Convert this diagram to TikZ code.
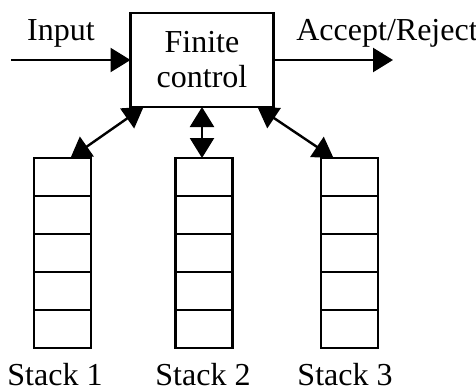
\documentclass[tikz,border=0pt]{standalone}
\usepackage{fontspec}
\setmainfont{Liberation Serif}
\usetikzlibrary{arrows.meta}

\begin{document}
\begin{tikzpicture}[x=0.5pt, y=-0.5pt, line width=1.2pt, font=\fontsize{16}{17.5}\selectfont,
    >={Triangle[length=10pt,width=12pt]},
    cell/.style={draw, minimum width=28.5pt, minimum height=19pt, inner sep=0pt, outer sep=0pt}]
			\useasboundingbox (0,0) rectangle (476,391);
			\node[draw, minimum width=71.5pt, minimum height=47pt, align=center, outer sep=0pt] (fc) at (202,60) {Finite\\control};
			\coordinate (in) at (11,60);
			\coordinate (out) at (393,60);
			\draw[->] (in) -- (fc.west);
			\draw[->] (fc.east) -- (out);
			\node (inlbl) at (61,33) {Input};
			\node (outlbl) at (387,33) {Accept/Reject};
			\foreach \s/\x/\lx in {1/62.5/55, 2/204/203, 3/349.5/345} {
				\foreach \c in {1,...,5}
					\node[cell] (s\s c\c) at (\x,{158+38*(\c-0.5)}) {};
				\node (lbl\s) at (\lx,375) {Stack \s};
			}
			\draw[<->] ([xshift=6.5pt]fc.south west) -- ([xshift=4pt]s1c1.north);
			\draw[<->] (fc.south) -- (fc.south |- s2c1.north);
			\draw[<->] ([xshift=-8pt]fc.south east) -- ([xshift=-8pt]s3c1.north);
		\end{tikzpicture}
\end{document}
